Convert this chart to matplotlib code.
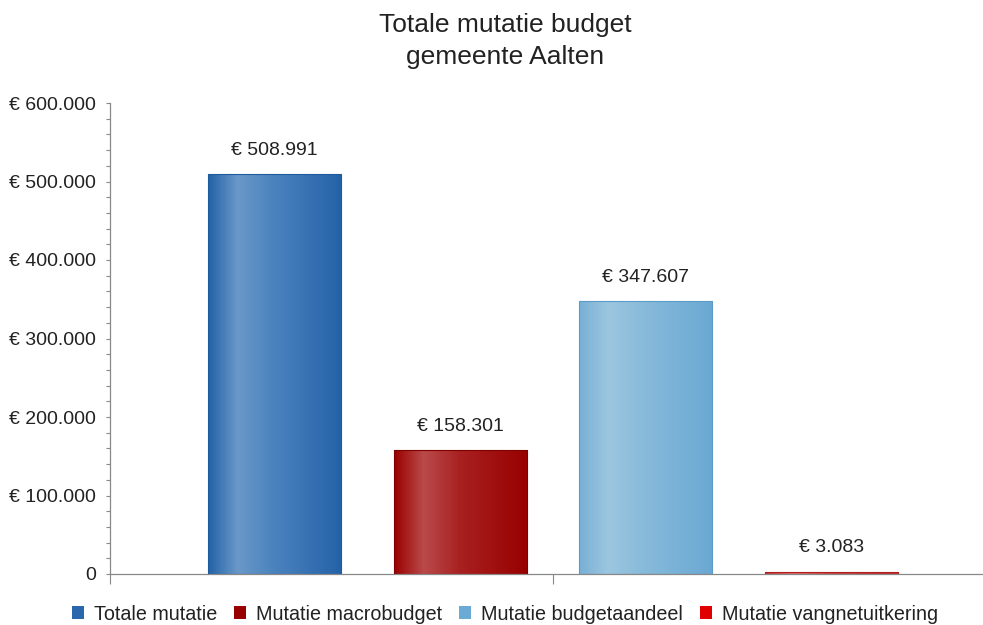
import matplotlib.pyplot as plt
import numpy as np
from matplotlib.colors import LinearSegmentedColormap
from matplotlib.patches import Patch
from matplotlib.ticker import FuncFormatter, MultipleLocator

plt.rcParams["font.family"] = ["Liberation Sans", "DejaVu Sans"]

# data
series = ["Totale mutatie", "Mutatie macrobudget", "Mutatie budgetaandeel", "Mutatie vangnetuitkering"]
values = [508991, 158301, 347607, 3083]
legend_colors = ["#2a67ad", "#990000", "#6aaad4", "#e00000"]
gradients = [
    ["#2262a7", "#6a98c9", "#4a82bd", "#2462a8"],
    ["#9a0000", "#ba4a4a", "#a82020", "#980000"],
    ["#78b0d6", "#9cc6e0", "#86bada", "#6aa8d3"],
    ["#c83030", "#e07070", "#d04040", "#c02828"],
]

fig = plt.figure(figsize=(9.83, 6.25), dpi=100)
ax = fig.add_axes([110 / 983, 51 / 625, 873 / 983, 471 / 625])

x = np.arange(len(values))
width = 0.717
bars = ax.bar(x, values, width, color="none", edgecolor="none", zorder=1)

stops = [0.0, 0.22, 0.5, 1.0]
grad = np.linspace(0, 1, 256).reshape(1, -1)
for bar, cols in zip(bars, gradients):
    cmap = LinearSegmentedColormap.from_list("g", list(zip(stops, cols)))
    x0, w, h = bar.get_x(), bar.get_width(), bar.get_height()
    im = ax.imshow(grad, extent=[x0, x0 + w, 0, h], aspect="auto", cmap=cmap,
                   zorder=2, interpolation="bicubic")
    im.set_clip_path(bar)
ax.bar(x, values, width, fill=False, edgecolor=["#1f5a9c", "#800000", "#5a9cc8", "#b02020"],
       linewidth=0.8, zorder=3)

for xi, v in zip(x, values):
    label = "€ " + f"{v:,}".replace(",", ".")
    ax.annotate(label, (xi, v), xytext=(0, 17), textcoords="offset points",
                ha="center", va="center", fontsize=14, color="#222222")

center = (x[0] + x[-1]) / 2
spacing = 185.5
ax.set_xlim(center - 443 / spacing, center + 430 / spacing)
ax.set_ylim(0, 600000)

ax.yaxis.set_major_locator(MultipleLocator(100000))
ax.yaxis.set_minor_locator(MultipleLocator(20000))
ax.yaxis.set_major_formatter(FuncFormatter(
    lambda v, p: "0" if v == 0 else "€ " + f"{int(v):,}".replace(",", ".")))
ax.tick_params(axis="y", which="both", direction="out", length=3, width=0.8,
               color="#888888", labelsize=14, labelcolor="#222222", pad=7)
ax.set_xticks([ax.get_xlim()[0], center])
ax.set_xticklabels(["", ""])
ax.tick_params(axis="x", direction="out", length=7, width=0.8, color="#888888")

for s in ["top", "right"]:
    ax.spines[s].set_visible(False)
for s in ["left", "bottom"]:
    ax.spines[s].set_color("#888888")
    ax.spines[s].set_linewidth(0.9)

fig.text(505 / 983, 1 - 41 / 625, "Totale mutatie budget\ngemeente Aalten",
         ha="center", va="center", fontsize=19, color="#222222", linespacing=1.45)

handles = [Patch(facecolor=c, edgecolor="none") for c in legend_colors]
fig.legend(handles, series, loc="center", bbox_to_anchor=(505 / 983, 11 / 625),
           ncol=4, frameon=False, fontsize=14.2, handlelength=0.62, handleheight=0.62,
           handletextpad=0.5, columnspacing=0.85, labelcolor="#222222")

fig.savefig("out.png", dpi=100)
